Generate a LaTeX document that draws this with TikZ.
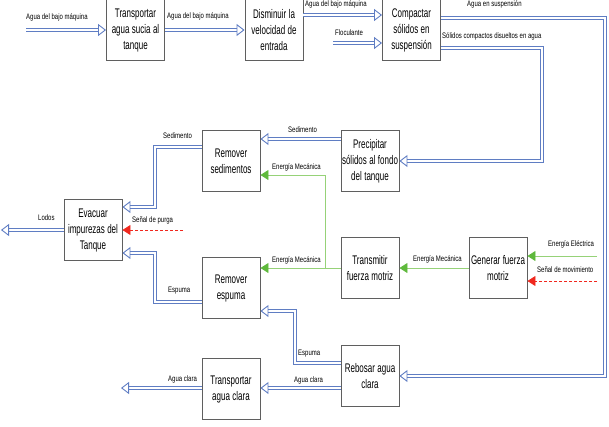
\documentclass[tikz,border=0pt]{standalone}
\usepackage{fontspec}
\setmainfont{Liberation Sans}
\newfontfamily\boxfont[FakeStretch=0.64]{Liberation Sans}
\newfontfamily\lblfont[FakeStretch=0.75]{Liberation Sans}
\usetikzlibrary{arrows.meta}

\definecolor{flowblue}{RGB}{95,125,195}
\definecolor{linegreen}{RGB}{150,210,120}
\definecolor{tipgreen}{RGB}{95,185,60}
\definecolor{sigred}{RGB}{240,40,30}
\definecolor{boxgray}{RGB}{95,95,95}

\tikzset{
  stage/.style={draw=boxgray, line width=0.9pt, minimum width=58pt, minimum height=61pt,
    inner sep=0pt, align=center, font=\boxfont\fontsize{12.5}{16}\selectfont,
    execute at begin node={\spaceskip=2.4pt\relax}},
  lbl/.style={inner sep=0pt, anchor=west, font=\lblfont\fontsize{8}{9}\selectfont,
    execute at begin node={\spaceskip=1.7pt\relax}},
  flow/.style={draw=flowblue, line width=0.9pt, double=white, double distance=2.2pt,
    -{Triangle[open, length=8pt, width=12pt]}},
  energy/.style={draw=linegreen, line width=0.9pt, -{Triangle[length=8pt, width=10pt, color=tipgreen]}},
  signal/.style={draw=sigred, line width=0.7pt, dash pattern=on 3pt off 2pt,
    -{Triangle[length=8pt, width=10pt, color=sigred]}}
}

\begin{document}
\begin{tikzpicture}[x=1pt,y=-1pt]
\useasboundingbox (0,0) rectangle (609,426);

% stages
\node (tsucia) [stage] at (135.5,30) {Transportar\\agua sucia al\\tanque};
\node (dismin) [stage] at (274,30) {Disminuir la\\velocidad de\\entrada};
\node (compac) [stage] at (411.5,30) {Compactar\\sólidos en\\suspensión};
\node (precip) [stage] at (370,161) {Precipitar\\sólidos al fondo\\del tanque};
\node (remsed) [stage] at (231,161) {Remover\\sedimentos};
\node (evac)   [stage] at (93,230) {Evacuar\\impurezas del\\Tanque};
\node (remesp) [stage] at (231,288) {Remover\\espuma};
\node (transm) [stage] at (370,268) {Transmitir\\fuerza motriz};
\node (genera) [stage] at (498,268) {Generar fuerza\\motriz};
\node (rebos)  [stage] at (370,376) {Rebosar agua\\clara};
\node (tclara) [stage] at (231,389) {Transportar\\agua clara};

% free ends
\coordinate (inagua) at (26,30);
\coordinate (inflc) at (333,43);
\coordinate (lodos) at (1,230);
\coordinate (purga) at (183,230);
\coordinate (outclara) at (121,388);
\coordinate (inelec) at (597,256);
\coordinate (inmov) at (597,281);
\coordinate (split) at (325,268);

% water and solids
\draw [flow] (inagua) -- (tsucia.west |- inagua);
\draw [flow] (tsucia.east) -- (dismin.west);
\draw [flow] (dismin.east |- 0,15) -- (compac.west |- 0,15);
\draw [flow] (inflc) -- (compac.west |- inflc);
\draw [flow] (compac.east |- 0,18) -- (605,18) -- (605,376) -- (rebos.east);
\draw [flow] (compac.east |- 0,48) -- (542,48) -- (542,161) -- (precip.east);
\draw [flow] (precip.west |- 0,139) -- (remsed.east |- 0,139);
\draw [flow] (remsed.west |- 0,147) -- (155,147) -- (155,207) -- (evac.east |- 0,207);
\draw [flow] (remesp.west |- 0,302) -- (155,302) -- (155,253) -- (evac.east |- 0,253);
\draw [flow] (rebos.west |- 0,363) -- (295,363) -- (295,311) -- (remesp.east |- 0,311);
\draw [flow] (rebos.west |- 0,388) -- (tclara.east |- 0,388);
\draw [flow] (tclara.west |- outclara) -- (outclara);
\draw [flow] (evac.west) -- (lodos);

% energy and signals
\draw [energy] (genera.west) -- (transm.east);
\draw [energy] (transm.west) -- (remesp.east |- transm.west);
\draw [energy] (split) -- (split |- 0,175) -- (remsed.east |- 0,175);
\draw [energy] (inelec) -- (genera.east |- inelec);
\draw [signal] (inmov) -- (genera.east |- inmov);
\draw [signal] (purga) -- (evac.east);

% labels
\node (l1) [lbl] at (26,17) {Agua del bajo máquina};
\node (l2) [lbl] at (167,16) {Agua del bajo máquina};
\node (l3) [lbl] at (305,4) {Agua del bajo máquina};
\node (l4) [lbl] at (335,33) {Floculante};
\node (l5) [lbl] at (467,4) {Agua en suspensión};
\node (l6) [lbl] at (442,36) {Sólidos compactos disueltos en agua};
\node (l7) [lbl] at (288,130) {Sedimento};
\node (l8) [lbl] at (163,136) {Sedimento};
\node (l9) [lbl] at (272,167) {Energía Mecánica};
\node (l10) [lbl] at (272,260) {Energía Mecánica};
\node (l11) [lbl] at (168,291) {Espuma};
\node (l12) [lbl] at (298,354) {Espuma};
\node (l13) [lbl] at (294,380) {Agua clara};
\node (l14) [lbl] at (168,379) {Agua clara};
\node (l15) [lbl] at (38,218) {Lodos};
\node (l16) [lbl] at (132,220) {Señal de purga};
\node (l17) [lbl] at (413,259) {Energía Mecánica};
\node (l18) [lbl] at (548,244) {Energía Eléctrica};
\node (l19) [lbl] at (537,270) {Señal de movimiento};

\end{tikzpicture}
\end{document}
